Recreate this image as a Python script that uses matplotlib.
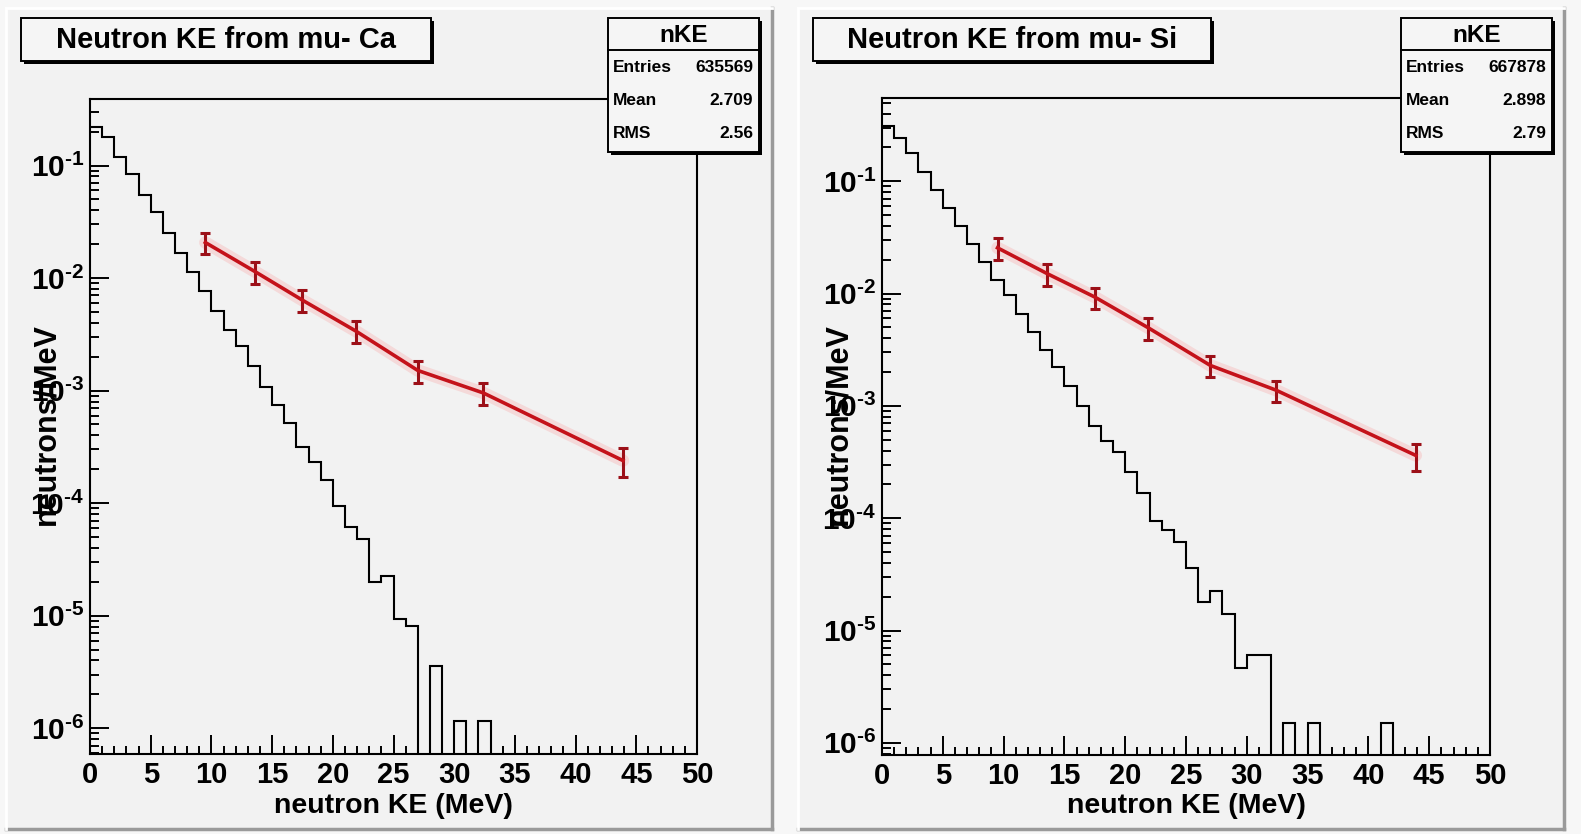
import numpy as np
import matplotlib
matplotlib.use('Agg')
import matplotlib.pyplot as plt
from matplotlib.patches import Rectangle
from matplotlib.lines import Line2D
from matplotlib.ticker import LogLocator, FuncFormatter, MultipleLocator, NullFormatter

plt.rcParams['font.family'] = ['Liberation Sans', 'DejaVu Sans']
plt.rcParams['font.weight'] = 'bold'
plt.rcParams['mathtext.fontset'] = 'custom'
plt.rcParams['mathtext.rm'] = 'Liberation Sans:bold'
plt.rcParams['mathtext.bf'] = 'Liberation Sans:bold'
plt.rcParams['mathtext.it'] = 'Liberation Sans:bold'

W, H = 1581, 834

# simulated neutron KE spectra, 1 MeV bins from 0 to 50 MeV (neutrons/MeV)
ke_edges = np.arange(0, 51, 1)
ca_hist = [0.218, 0.181, 0.120, 0.0837, 0.0548, 0.0385, 0.0250, 0.0166, 0.0114, 0.00766,
           0.00512, 0.00344, 0.00248, 0.00165, 0.00108, 0.00074, 0.000518, 0.000314, 0.000234, 0.000160,
           9.5e-5, 6.1e-5, 4.8e-5, 2.0e-5, 2.24e-5, 9.3e-6, 8.1e-6, 0, 3.58e-6, 0,
           1.15e-6, 0, 1.15e-6, 0, 0, 0, 0, 0, 0, 0,
           0, 0, 0, 0, 0, 0, 0, 0, 0, 0]
si_hist = [0.311, 0.244, 0.177, 0.120, 0.083, 0.0577, 0.0395, 0.0275, 0.0192, 0.0132,
           0.00966, 0.00653, 0.00454, 0.00311, 0.00220, 0.00151, 0.00100, 0.000667, 0.000485, 0.000387,
           0.000258, 0.000166, 9.5e-5, 7.8e-5, 6.1e-5, 3.57e-5, 1.78e-5, 2.25e-5, 1.39e-5, 4.6e-6,
           6.1e-6, 6.1e-6, 0, 1.5e-6, 0, 1.5e-6, 0, 0, 0, 0,
           0, 1.5e-6, 0, 0, 0, 0, 0, 0, 0, 0]

# measured spectrum points with errors
meas_ke = [9.5, 13.6, 17.5, 21.9, 27.0, 32.4, 43.9]
ca_meas = [0.0207, 0.0114, 0.00636, 0.00338, 0.00151, 0.000953, 0.000239]
ca_meas_err = [0.0045, 0.0025, 0.0014, 0.00075, 0.00034, 0.00021, 0.00007]
si_meas = [0.0255, 0.0150, 0.0093, 0.00495, 0.00229, 0.00138, 0.000362]
si_meas_err = [0.0056, 0.0033, 0.0020, 0.00107, 0.0005, 0.0003, 0.0001]

titles = ['Neutron KE from mu- Ca', 'Neutron KE from mu- Si']
stat_names = ['Entries', 'Mean', 'RMS']
ca_stats = ['635569', '2.709', '2.56']
si_stats = ['667878', '2.898', '2.79']

red = '#c4121a'
bg = '#f2f2f2'

fig = plt.figure(figsize=(W / 100, H / 100), dpi=100)
fig.patch.set_facecolor('#f7f7f7')


def fx(x):
    return x / W


def fy(y):
    return 1 - y / H


def box(x0, y0, x1, y1, **kw):
    r = Rectangle((fx(x0), fy(y1)), (x1 - x0) / W, (y1 - y0) / H,
                  transform=fig.transFigure, **kw)
    fig.add_artist(r)
    return r


def hline(x0, x1, y, **kw):
    fig.add_artist(Line2D([fx(x0), fx(x1)], [fy(y), fy(y)], transform=fig.transFigure, **kw))


def vline(x, y0, y1, **kw):
    fig.add_artist(Line2D([fx(x), fx(x)], [fy(y0), fy(y1)], transform=fig.transFigure, **kw))


def pow10(v, pos):
    # short hyphen in the exponent, like the ROOT labels
    return r'$10^{\text{-}%d}$' % abs(int(round(np.log10(v))))


def draw_pad(px0, px1, ax_box, ylim, hist, meas, meas_err, title, stats, title_x):
    # pad background with bevelled border
    box(px0, 8, px1, 829, facecolor=bg, edgecolor='none', zorder=-5)
    hline(px0, px1, 829, color='#9a9a9a', lw=2.5, zorder=-4)
    vline(px1, 8, 829, color='#9a9a9a', lw=2.5, zorder=-4)
    hline(px0, px1, 8, color='white', lw=2, zorder=-4)
    vline(px0, 8, 829, color='white', lw=2, zorder=-4)

    x0, y0, x1, y1 = ax_box
    ax = fig.add_axes([fx(x0), fy(y1), (x1 - x0) / W, (y1 - y0) / H])
    ax.set_facecolor(bg)
    ax.set_yscale('log')
    ax.set_xlim(0, 50)
    ax.set_ylim(*ylim)

    h = np.array(hist, dtype=float)
    h = np.where(h > 0, h, 1e-12)
    ax.stairs(h, ke_edges, baseline=None, color='black', lw=1.5)

    ax.plot(meas_ke, meas, color='#ff5a5a', lw=9, alpha=0.16, solid_capstyle='round')
    ax.errorbar(meas_ke, meas, yerr=meas_err, color=red, ecolor='#9c1018', lw=2.6,
                elinewidth=2.2, capsize=3.5, capthick=2.2)

    for s in ax.spines.values():
        s.set_linewidth(1.5)
    ax.xaxis.set_major_locator(MultipleLocator(5))
    ax.xaxis.set_minor_locator(MultipleLocator(1))
    ax.yaxis.set_major_locator(LogLocator(base=10, numticks=20))
    ax.yaxis.set_minor_locator(LogLocator(base=10, subs=np.arange(2, 10), numticks=20))
    ax.yaxis.set_major_formatter(FuncFormatter(pow10))
    ax.yaxis.set_minor_formatter(NullFormatter())
    ax.tick_params(which='both', direction='in', width=1.4)
    ax.tick_params(axis='x', which='major', length=14, pad=5, labelsize=21)
    ax.tick_params(axis='x', which='minor', length=6)
    ax.tick_params(axis='y', which='major', length=14, pad=4, labelsize=21.5)
    ax.tick_params(axis='y', which='minor', length=6.5)
    for lab in ax.get_xticklabels() + ax.get_yticklabels():
        lab.set_fontweight('bold')

    cx = (x0 + x1) / 2
    fig.text(fx(cx), fy(806), 'neutron KE (MeV)', ha='center', va='center',
             fontsize=20.5, fontweight='bold')
    fig.text(fx(x0 - 44), fy(424), 'neutrons/MeV', ha='center', va='center',
             rotation=90, fontsize=22, fontweight='bold')

    # title box
    tx0, tx1 = title_x
    box(tx0 + 3, 21, tx1 + 3, 64, facecolor='black', edgecolor='none', zorder=3)
    box(tx0, 18, tx1, 61, facecolor='#f5f5f5', edgecolor='black', lw=1.4, zorder=4)
    fig.text(fx((tx0 + tx1) / 2), fy(40), title, ha='center', va='center',
             fontsize=21, fontweight='bold', zorder=5)

    # statistics box
    sx0, sx1 = x1 - 89, x1 + 62
    box(sx0 + 3, 21, sx1 + 3, 155, facecolor='black', edgecolor='none', zorder=3)
    box(sx0, 18, sx1, 152, facecolor='#f5f5f5', edgecolor='black', lw=1.4, zorder=4)
    hline(sx0, sx1, 50, color='black', lw=1.4, zorder=5)
    fig.text(fx((sx0 + sx1) / 2), fy(35), 'nKE', ha='center', va='center',
             fontsize=17.5, fontweight='bold', zorder=5)
    for i, (name, val) in enumerate(zip(stat_names, stats)):
        yy = 68 + i * 32.5
        fig.text(fx(sx0 + 5), fy(yy), name, ha='left', va='center',
                 fontsize=12.5, fontweight='bold', zorder=5)
        fig.text(fx(sx1 - 6), fy(yy), val, ha='right', va='center',
                 fontsize=12.5, fontweight='bold', zorder=5)
    return ax


draw_pad(6, 772, (90, 99, 697, 754), (5.9e-7, 0.39), ca_hist, ca_meas, ca_meas_err,
         titles[0], ca_stats, (21, 431))
draw_pad(798, 1564, (882, 98, 1490, 755), (7.8e-7, 0.55), si_hist, si_meas, si_meas_err,
         titles[1], si_stats, (813, 1211))

fig.savefig('out.png', dpi=100, facecolor=fig.get_facecolor())
